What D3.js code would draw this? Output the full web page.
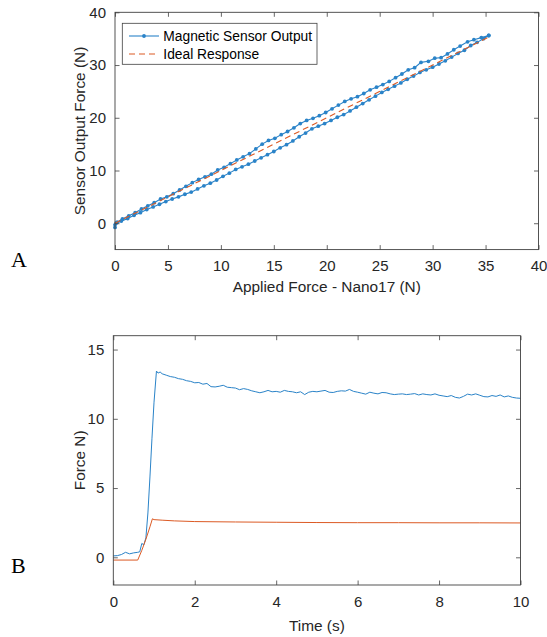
<!DOCTYPE html>
<html><head><meta charset="utf-8">
<script src="https://cdn.jsdelivr.net/npm/d3@7"></script>
<style>
body{margin:0;background:#fff;}
svg{display:block;font-family:"Liberation Sans",Arial,sans-serif;}
</style></head>
<body>
<svg id="c" width="547" height="637"></svg>
<script>
// ---------- Panel A data ----------
const loadX = [0,0.1,0.6,1.2,1.8,2.4,3.0,3.6,4.2,4.8,5.4,6.0,6.6,7.2,7.8,8.4,9.0,9.6,10.2,10.8,11.4,12.0,12.6,13.2,13.8,14.4,15.0,15.6,16.2,16.8,17.4,18.0,18.6,19.2,19.8,20.4,21.0,21.6,22.2,22.8,23.4,24.0,24.6,25.2,25.8,26.4,27.0,27.6,28.2,28.8,29.4,30.0,30.6,31.2,31.8,32.4,33.0,33.6,34.2,34.8,35.3];
const loadY = [-0.8,0.0,0.4,0.9,1.5,2.0,2.6,3.1,3.6,4.1,4.6,5.0,5.5,5.9,6.5,7.1,7.6,8.2,8.9,9.5,10.2,10.7,11.2,11.8,12.4,13.0,13.6,14.3,14.9,15.6,16.4,17.1,17.9,18.4,18.9,19.5,20.1,20.6,21.3,22.0,22.7,23.4,24.1,24.8,25.4,26.0,26.6,27.3,27.9,28.6,29.1,29.6,30.2,30.8,31.5,32.2,32.8,33.7,34.3,35.0,35.6];
const unloadX = [35.3,34.6,33.9,33.3,32.6,32.0,31.4,30.8,30.2,29.6,28.9,28.3,27.7,27.1,26.5,25.9,25.3,24.7,24.1,23.5,22.9,22.3,21.7,21.1,20.5,19.9,19.3,18.7,18.1,17.5,16.9,16.3,15.7,15.1,14.5,13.9,13.3,12.7,12.1,11.5,10.9,10.3,9.7,9.1,8.5,7.9,7.3,6.7,6.1,5.5,4.9,4.3,3.7,3.1,2.5,1.9,1.3,0.7,0.2,0.0];
const unloadY = [35.6,35.2,34.8,34.4,33.6,32.9,32.1,31.4,31.3,30.7,30.5,29.5,29.1,28.3,27.6,26.9,26.3,25.8,25.3,24.6,24.0,23.6,23.1,22.4,21.7,21.0,20.4,19.9,19.5,18.9,18.1,17.4,16.8,16.1,15.7,15.0,14.1,13.2,12.6,12.0,11.3,10.6,10.1,9.3,8.8,8.3,7.7,7.0,6.3,5.6,5.0,4.6,3.9,3.3,2.7,2.0,1.4,0.8,0.2,-0.3];
const idealX = [0,35.3];
const idealY = [0,35.3];
const aXTicks = [0,5,10,15,20,25,30,35,40];
const aYTicks = [0,10,20,30,40];
const legendLabels = ["Magnetic Sensor Output","Ideal Response"];

// ---------- Panel B data ----------
const blueT = [0,0.1,0.2,0.3,0.4,0.5,0.6,0.65,0.7,0.75,0.8,0.85,0.9,0.95,1.0,1.06,1.1,1.15,1.2,1.3,1.4,1.5,1.6,1.7,1.8,1.9,2.0,2.1,2.2,2.3,2.4,2.5,2.6,2.7,2.8,2.9,3.0,3.1,3.2,3.3,3.4,3.5,3.6,3.7,3.8,3.9,4.0,4.1,4.2,4.3,4.4,4.5,4.6,4.7,4.8,4.9,5.0,5.1,5.2,5.3,5.4,5.5,5.6,5.7,5.8,5.9,6.0,6.1,6.2,6.3,6.4,6.5,6.6,6.7,6.8,6.9,7.0,7.1,7.2,7.3,7.4,7.5,7.6,7.7,7.8,7.9,8.0,8.1,8.2,8.3,8.4,8.5,8.6,8.7,8.8,8.9,9.0,9.1,9.2,9.3,9.4,9.5,9.6,9.7,9.8,9.9,10.0];
const blueF = [0.10,0.12,0.20,0.36,0.25,0.32,0.36,0.40,1.00,0.90,1.40,3.2,5.8,8.6,11.2,13.45,13.30,13.38,13.25,13.15,13.05,13.00,12.90,12.85,12.75,12.70,12.60,12.62,12.50,12.55,12.32,12.30,12.35,12.42,12.28,12.25,12.22,12.10,12.18,12.12,12.02,11.95,11.88,11.95,12.05,11.95,11.98,11.92,12.05,11.98,11.95,11.88,11.95,11.75,11.92,11.98,11.95,12.00,12.05,11.92,11.90,11.98,12.02,12.00,12.12,11.98,11.92,11.85,11.78,11.92,11.85,11.80,11.90,11.88,11.80,11.75,11.78,11.80,11.75,11.78,11.82,11.72,11.80,11.75,11.72,11.80,11.70,11.65,11.60,11.68,11.55,11.50,11.62,11.78,11.72,11.80,11.70,11.60,11.58,11.68,11.62,11.72,11.58,11.65,11.55,11.50,11.48];
const orangeT = [0,0.6,0.7,0.8,0.9,0.96,1.0,1.2,1.5,2.0,3.0,4.0,5.0,6.0,7.0,8.0,9.0,10.0];
const orangeF = [-0.20,-0.20,0.5,1.3,2.2,2.78,2.72,2.68,2.63,2.58,2.55,2.53,2.51,2.50,2.50,2.49,2.49,2.48];
const bXTicks = [0,2,4,6,8,10];
const bYTicks = [0,5,10,15];

const BLUE = "#2a83c8", ORANGE = "#DC5A24", AX = "#404040", TXT = "#262626";
const TICKFS = "15px", LABFS = "15.4px";
const svg = d3.select("#c");

function boxAxes(g, x, y, xt, yt, W, H) {
  const tl = 4.5;
  const xa = g.append("g").attr("transform", `translate(0,${H})`)
    .call(d3.axisBottom(x).tickValues(xt).tickSize(-tl).tickPadding(11).tickFormat(d3.format("d")));
  const ya = g.append("g")
    .call(d3.axisLeft(y).tickValues(yt).tickSize(-tl).tickPadding(9).tickFormat(d3.format("d")));
  const xt2 = g.append("g").call(d3.axisTop(x).tickValues(xt).tickSize(-tl).tickFormat(""));
  const yt2 = g.append("g").attr("transform", `translate(${W},0)`)
    .call(d3.axisRight(y).tickValues(yt).tickSize(-tl).tickFormat(""));
  [xa, ya, xt2, yt2].forEach(a => {
    a.select(".domain").remove();
    a.selectAll(".tick line").attr("stroke", AX).attr("stroke-width", 0.8);
    a.selectAll(".tick text").attr("fill", TXT).style("font-size", TICKFS)
      .style("font-family", '"Liberation Sans",Arial,sans-serif');
  });
  g.append("rect").attr("x", 0).attr("y", 0).attr("width", W).attr("height", H)
    .attr("fill", "none").attr("stroke", AX).attr("stroke-width", 0.9);
}

// ---------- Panel A ----------
{
  const L = 115, T = 12.3, W = 423.5, H = 237.3;
  const g = svg.append("g").attr("transform", `translate(${L},${T})`);
  const x = d3.scaleLinear().domain([0, 40]).range([0, W]);
  const y = d3.scaleLinear().domain([-5, 40]).range([H, 0]);
  const pg = g.append("g");
  const pts = loadX.map((v, i) => [v, loadY[i]]).concat(unloadX.map((v, i) => [v, unloadY[i]]));
  const line = d3.line().x(d => x(d[0])).y(d => y(d[1]));
  pg.append("path").datum(pts).attr("d", line).attr("fill", "none").attr("stroke", BLUE).attr("stroke-width", 1.1);
  pg.selectAll("circle.m").data(pts).join("circle").attr("class", "m")
    .attr("cx", d => x(d[0])).attr("cy", d => y(d[1])).attr("r", 1.9).attr("fill", BLUE);
  pg.append("path").datum(idealX.map((v, i) => [v, idealY[i]])).attr("d", line)
    .attr("fill", "none").attr("stroke", ORANGE).attr("stroke-width", 1.1).attr("stroke-dasharray", "6,4");
  boxAxes(g, x, y, aXTicks, aYTicks, W, H);
  const lg = svg.append("g");
  lg.append("rect").attr("x", 122.3).attr("y", 23.3).attr("width", 194.7).attr("height", 41)
    .attr("fill", "#fff").attr("stroke", AX).attr("stroke-width", 0.8);
  lg.append("line").attr("x1", 129).attr("x2", 159).attr("y1", 36).attr("y2", 36).attr("stroke", BLUE).attr("stroke-width", 1.1);
  lg.append("circle").attr("cx", 144).attr("cy", 36).attr("r", 1.9).attr("fill", BLUE);
  lg.append("line").attr("x1", 129).attr("x2", 159).attr("y1", 54).attr("y2", 54).attr("stroke", ORANGE)
    .attr("stroke-width", 1.1).attr("stroke-dasharray", "6,4");
  lg.selectAll("text").data(legendLabels).join("text").attr("x", 163.3).attr("y", (d, i) => 36 + i * 18)
    .attr("dy", "0.35em").attr("fill", "#000").style("font-size", "13.8px").text(d => d);
  svg.append("text").attr("x", L + W / 2).attr("y", 286.7).attr("dy", "0.35em").attr("text-anchor", "middle")
    .attr("fill", TXT).style("font-size", LABFS).text("Applied Force - Nano17 (N)");
  svg.append("text").attr("transform", `translate(80,${T + H / 2}) rotate(-90)`).attr("dy", "0.35em")
    .attr("text-anchor", "middle").attr("fill", TXT).style("font-size", LABFS).text("Sensor Output Force (N)");
  svg.append("text").attr("x", 11).attr("y", 267).style("font-family", '"Liberation Serif","Times New Roman",serif')
    .style("font-size", "22px").attr("fill", "#000").text("A");
}

// ---------- Panel B ----------
{
  const L = 113.3, T = 335.7, W = 407.2, H = 249.3;
  const g = svg.append("g").attr("transform", `translate(${L},${T})`);
  const x = d3.scaleLinear().domain([0, 10]).range([0, W]);
  const y = d3.scaleLinear().domain([-2, 16]).range([H, 0]);
  const line = d3.line().x(d => x(d[0])).y(d => y(d[1]));
  g.append("path").datum(blueT.map((t, i) => [t, blueF[i]])).attr("d", line)
    .attr("fill", "none").attr("stroke", BLUE).attr("stroke-width", 1);
  g.append("path").datum(orangeT.map((t, i) => [t, orangeF[i]])).attr("d", line)
    .attr("fill", "none").attr("stroke", ORANGE).attr("stroke-width", 1);
  boxAxes(g, x, y, bXTicks, bYTicks, W, H);
  svg.append("text").attr("x", L + W / 2).attr("y", 625.7).attr("dy", "0.35em").attr("text-anchor", "middle")
    .attr("fill", TXT).style("font-size", LABFS).text("Time (s)");
  svg.append("text").attr("transform", `translate(80,${T + H / 2}) rotate(-90)`).attr("dy", "0.35em")
    .attr("text-anchor", "middle").attr("fill", TXT).style("font-size", LABFS).text("Force N)");
  svg.append("text").attr("x", 11).attr("y", 573).style("font-family", '"Liberation Serif","Times New Roman",serif')
    .style("font-size", "22px").attr("fill", "#000").text("B");
}
</script>
</body></html>
